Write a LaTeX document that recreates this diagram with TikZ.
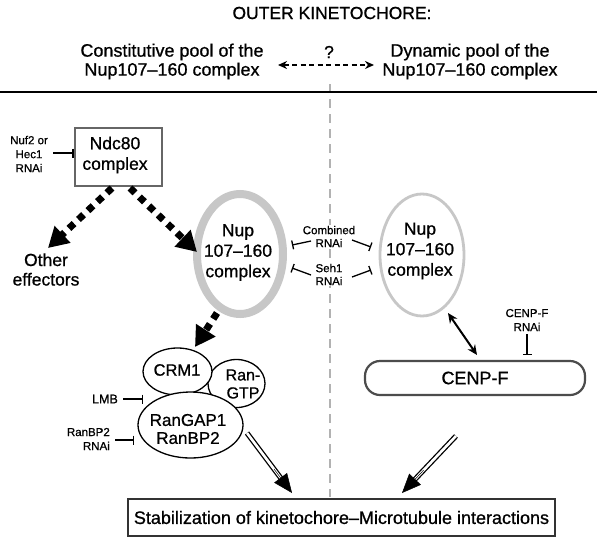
\documentclass[tikz,border=0pt]{standalone}
\usepackage{fontspec}
\setmainfont{Liberation Sans}[FakeBold=0.8]
\usetikzlibrary{arrows.meta,shapes.geometric,calc}
\begin{document}
\begin{tikzpicture}[x=1pt,y=-1pt,
  big/.style={font=\fontsize{17.5}{20.5}\selectfont, align=center, inner sep=0pt},
  small/.style={font=\fontsize{11.5}{13.5}\selectfont, align=center, inner sep=0pt},
  dotarrow/.style={line width=7pt, dash pattern=on 7pt off 6pt, -{Triangle[length=20pt,width=22pt]}},
  inhib/.style={line width=1.3pt, -{Bar[width=9pt,line width=1.3pt]}},
  dbl/.style={line width=1.3pt, double=white, double distance=2.6pt, draw=black},
  dbltip/.style={line width=0.5pt, -{Triangle[length=19pt,width=16pt]}},
  oval/.style={ellipse, draw=black, line width=1.3pt, fill=white, inner sep=0pt},
  nupring/.style={ellipse, draw=black!22, inner sep=0pt},
  vdash/.style={draw=black!30, line width=1.5pt, dash pattern=on 9pt off 6pt},
  twohead/.style={{Stealth[length=9pt,width=8pt]}-{Stealth[length=9pt,width=8pt]}}
]
\useasboundingbox[fill=white] (0,0) rectangle (597,539);

% vertical dashed separator and horizontal rule
\coordinate (vtop) at (330,84);
\coordinate (vbot) at (330,497);
\draw[vdash] (vtop) -- (vbot);
\coordinate (hl) at (0,92);
\coordinate (hr) at (597,92);
\draw[line width=2.4pt] (hl) -- (hr);

% header
\node[big] (title) at (332,13) {OUTER KINETOCHORE:};
\node[big, font=\fontsize{18}{19}\selectfont] (constit) at (172,61.5) {Constitutive pool of the\\Nup107–160 complex};
\node[big, font=\fontsize{18}{19}\selectfont] (dyn) at (470,61.5) {Dynamic pool of the\\Nup107–160 complex};
\node[big] (q) at (329,52) {?};
\coordinate (qa) at (278,65);
\coordinate (qb) at (374,65);
\draw[line width=1.5pt, dash pattern=on 5pt off 3.5pt, twohead] (qa) -- (qb);

% Ndc80
\node[draw=black!60, line width=2.6pt, fill=white, minimum width=87pt, minimum height=58pt, inner sep=0pt] (ndc) at (118.5,157) {};
\node[big] (ndct) at (115,155) {Ndc80\\complex};
\node[small, font=\fontsize{11.5}{14}\selectfont] (nuf) at (29,154) {Nuf2 or\\Hec1\\RNAi};
\coordinate (nufa) at (53,153);
\coordinate (nufb) at (73.5,153);
\draw[inhib] (nufa) -- (nufb);

\node[big, font=\fontsize{17.5}{19.5}\selectfont] (eff) at (46,269.5) {Other\\effectors};

% Nup rings
\node[nupring, line width=8pt, minimum width=86pt, minimum height=120pt] (nupL) at (240,254) {};
\node[big] (nupLt) at (238,252.5) {Nup\\107–160\\complex};
\node[nupring, line width=2.8pt, minimum width=84pt, minimum height=122pt] (nupR) at (422,255) {};
\node[big] (nupRt) at (420,251) {Nup\\107–160\\complex};

% dotted arrows
\coordinate (d1s) at (112,188);
\coordinate (d1e) at (48,248);
\coordinate (d2s) at (130,188);
\coordinate (d2e) at (197,252);
\coordinate (d3s) at (217,313);
\coordinate (d3e) at (195,347);
\draw[dotarrow] (d1s) -- (d1e);
\draw[dotarrow] (d2s) -- (d2e);
\draw[dotarrow] (d3s) -- (d3e);

% RNAi between rings
\node[small, fill=white, inner sep=1pt, font=\fontsize{11.5}{13}\selectfont] (comb) at (329,236.5) {Combined\\RNAi};
\node[small, fill=white, inner sep=1pt, font=\fontsize{11.5}{13}\selectfont] (seh) at (329,274.5) {Seh1\\RNAi};
\coordinate (ul1) at (311,241); \coordinate (ul2) at (292,245);
\coordinate (ur1) at (352,240); \coordinate (ur2) at (371,247);
\coordinate (ll1) at (311,275); \coordinate (ll2) at (292,268);
\coordinate (lr1) at (352,277); \coordinate (lr2) at (371,270);
\draw[inhib] (ul1) -- (ul2);
\draw[inhib] (ur1) -- (ur2);
\draw[inhib] (ll1) -- (ll2);
\draw[inhib] (lr1) -- (lr2);

% export complex
\node[oval, minimum width=57pt, minimum height=48pt] (rangtp) at (236.5,383.5) {};
\node[oval, minimum width=69pt, minimum height=47pt] (crm) at (177.5,371.5) {};
\node[oval, minimum width=105pt, minimum height=66pt] (rangap) at (190.5,425) {};
\node[big, font=\fontsize{16.5}{18}\selectfont] (crmt) at (177,370) {CRM1};
\node[big, font=\fontsize{16}{18}\selectfont] (rangtpt) at (243,384) {Ran-\\GTP};
\node[big, font=\fontsize{17}{18}\selectfont] (rangapt) at (188,429) {RanGAP1\\RanBP2};

\node[inner sep=0pt, font=\fontsize{12.5}{14}\selectfont] (lmb) at (105,399) {LMB};
\coordinate (lmba) at (123,399); \coordinate (lmbb) at (143,399);
\draw[inhib] (lmba) -- (lmbb);
\node[small, align=right, anchor=east, font=\fontsize{11.5}{14}\selectfont] (rbp) at (110,439) {RanBP2\\RNAi};
\coordinate (rbpa) at (115,440); \coordinate (rbpb) at (134,440);
\draw[inhib] (rbpa) -- (rbpb);

% CENP-F
\node[big, draw=black!70, fill=white, line width=2.2pt, rounded corners=15pt, minimum width=220pt, minimum height=34pt, font=\fontsize{18}{20}\selectfont] (cenpf) at (475,378) {CENP-F};
\coordinate (cfa) at (448,313); \coordinate (cfb) at (477,355);
\draw[line width=2pt, {Stealth[length=10pt,width=9pt]}-{Stealth[length=10pt,width=9pt]}] (cfa) -- (cfb);
\node[small, font=\fontsize{11.5}{14}\selectfont] (cfr) at (527,320) {CENP-F\\RNAi};
\coordinate (cfra) at (527,334); \coordinate (cfrb) at (527,355);
\draw[inhib] (cfra) -- (cfrb);

% bottom box
\node[draw=black!80, line width=1.3pt, fill=white, minimum width=427pt, minimum height=37pt, inner sep=0pt, font=\fontsize{18}{20}\selectfont] (stab) at (341.5,517.5) {Stabilization of kinetochore–Microtubule interactions};

% double arrows
\coordinate (dl1) at (247,433); \coordinate (dl2) at (292,493);
\coordinate (dr1) at (456,436); \coordinate (dr2) at (402,493);
\draw[dbl, shorten >=13pt] (dl1) -- (dl2);
\draw[dbltip] ($(dl1)!0.6!(dl2)$) -- (dl2);
\draw[dbl, shorten >=13pt] (dr1) -- (dr2);
\draw[dbltip] ($(dr1)!0.6!(dr2)$) -- (dr2);
\end{tikzpicture}
\end{document}
